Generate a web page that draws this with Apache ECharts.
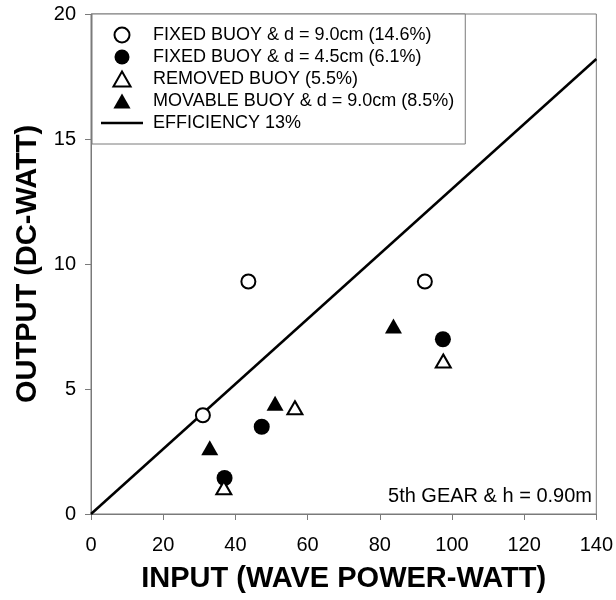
<!DOCTYPE html>
<html>
<head>
<meta charset="UTF-8">
<title>Output vs input</title>
<script type="text/javascript" src="https://cdn.jsdelivr.net/npm/echarts@6/dist/echarts.min.js"></script>
<style>
body { margin: 0; background: #fff; }
</style>
</head>
<body>
	<div id="main" style="width:616px; height:600px"></div>
	<script type="text/javascript">
	// values: [input W, output W]
	var fixed90 = [[43.6, 9.3], [92.5, 9.3], [31.0, 3.95]];
	var fixed45 = [[37.0, 1.44], [47.3, 3.49], [97.5, 6.99]];
	var removed = [[36.8, 1.05], [56.5, 4.25], [97.6, 6.12]];
	var movable = [[32.9, 2.65], [51.0, 4.43], [83.8, 7.52]];
	var efficiency = [[0, 0], [140, 18.2]];
	var names = ['FIXED BUOY & d = 9.0cm (14.6%)', 'FIXED BUOY & d = 4.5cm (6.1%)',
		'REMOVED BUOY (5.5%)', 'MOVABLE BUOY & d = 9.0cm (8.5%)', 'EFFICIENCY 13%'];

	var myChart = echarts.init(document.getElementById('main'));
	var font = "'Liberation Sans', Arial, sans-serif";
	var grey = '#7a7a7a';
	var triIcon = 'path://M8,0 L16,14 L0,14 Z';

	var option = {
		animation: false,
		textStyle: { fontFamily: font, color: '#000' },
		grid: { left: 91, right: 18, top: 14, bottom: 86, show: true, borderColor: grey, borderWidth: 1 },
		legend: {
			orient: 'vertical',
			left: 92, top: 14,
			data: [
				{ name: names[0], icon: 'circle' },
				{ name: names[1], icon: 'circle' },
				{ name: names[2], icon: triIcon, itemStyle: { borderWidth: 2 } },
				{ name: names[3], icon: triIcon },
				{ name: names[4], icon: 'path://M0,0 L42,0 L42,2.5 L0,2.5 Z' }
			],
			padding: [12, 11, 12, 9],
			itemGap: 4,
			itemWidth: 42, itemHeight: 15,
			symbolKeepAspect: true,
			borderColor: grey, borderWidth: 1,
			backgroundColor: '#fff',
			textStyle: { fontSize: 18, fontFamily: font, color: '#000', padding: [0, 0, 0, 5] }
		},
		xAxis: {
			type: 'value', min: 0, max: 140, interval: 20,
			name: 'INPUT (WAVE POWER-WATT)', nameLocation: 'middle', nameGap: 50,
			nameTextStyle: { fontSize: 29, fontWeight: 'bold', color: '#000', fontFamily: font },
			axisLine: { lineStyle: { color: grey } },
			axisTick: { length: 6, lineStyle: { color: grey } },
			axisLabel: { fontSize: 20, color: '#000', margin: 21 },
			splitLine: { show: false }
		},
		yAxis: {
			type: 'value', min: 0, max: 20, interval: 5,
			name: 'OUTPUT (DC-WATT)', nameLocation: 'middle', nameGap: 47,
			nameTextStyle: { fontSize: 29, fontWeight: 'bold', color: '#000', fontFamily: font },
			axisLine: { show: true, lineStyle: { color: grey } },
			axisTick: { show: true, length: 6, lineStyle: { color: grey } },
			axisLabel: { fontSize: 20, color: '#000', margin: 15 },
			splitLine: { show: false }
		},
		series: [
			{
				name: names[0], type: 'scatter', data: fixed90,
				symbol: 'circle', symbolSize: 14,
				itemStyle: { color: '#fff', borderColor: '#000', borderWidth: 2, opacity: 1 }
			},
			{
				name: names[1], type: 'scatter', data: fixed45,
				symbol: 'circle', symbolSize: 16,
				itemStyle: { color: '#000', opacity: 1 }
			},
			{
				name: names[2], type: 'scatter', data: removed,
				symbol: 'triangle', symbolSize: [15, 13],
				itemStyle: { color: '#fff', borderColor: '#000', borderWidth: 2, opacity: 1 }
			},
			{
				name: names[3], type: 'scatter', data: movable,
				symbol: 'triangle', symbolSize: [17, 15],
				itemStyle: { color: '#000', opacity: 1 }
			},
			{
				name: names[4], type: 'line', data: efficiency,
				symbol: 'none', z: 1,
				itemStyle: { color: '#000' },
				lineStyle: { color: '#000', width: 2.5 }
			}
		],
		graphic: [{
			type: 'text', right: 24, top: 486,
			style: { text: '5th GEAR & h = 0.90m', fontSize: 20, fontFamily: font, fill: '#000' }
		}]
	};
	myChart.setOption(option);
	</script>
</body>
</html>
